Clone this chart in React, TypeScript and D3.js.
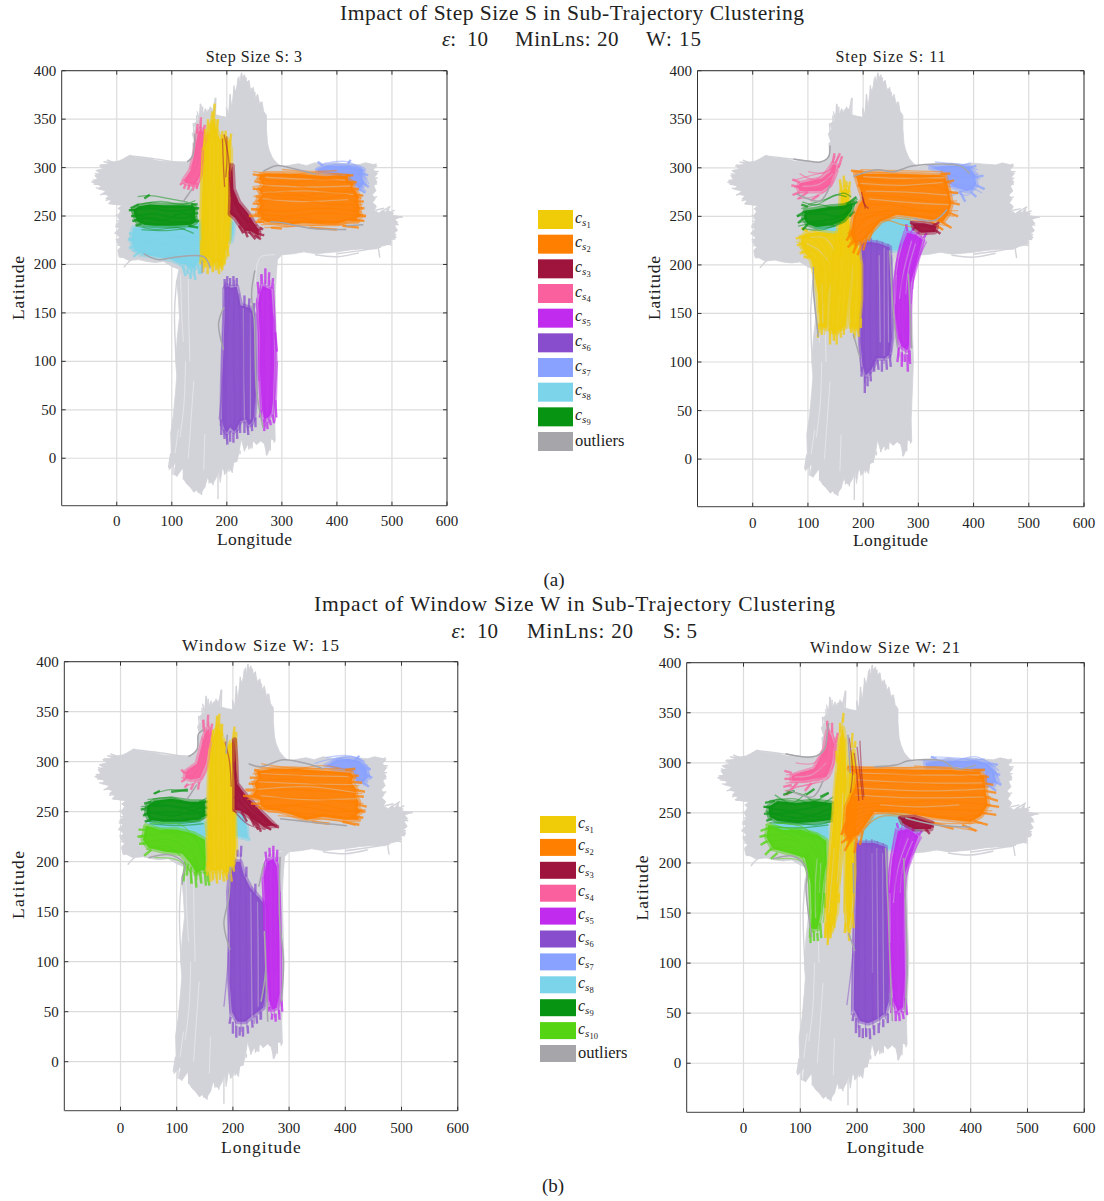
import React from "react";
import * as d3 from "d3";

const SERIF = "'Liberation Serif', serif";
const xTicks = [0, 100, 200, 300, 400, 500, 600];
const yTicks = [0, 50, 100, 150, 200, 250, 300, 350, 400];
const clusterColors = ["#f0cb08", "#ff8000", "#9f143c", "#fa5f9e", "#c12bee", "#884dcc", "#89a2ff", "#7bd4ea", "#079412", "#55d414"];
const outlierColor = "#a5a5aa";
const backgroundColor = "#d2d3d8";

// Silhouette of all the trajectories (x, y, x, y ...)
const backgroundBody = [4,208,2,215,7,218,-1,224,5,228,-3,233,4,237,-2,241,6,245,1,250,7,255,3,258,9,261,-15,263,-10,266,-20,268,-14,271,-26,273,-20,276,-34,278,-28,281,-46,285,-35,288,-40,292,-30,294,-38,297,-24,299,-32,302,-14,304,-24,306,-5,306,5,307,12,309,24,313,30,311,45,310,60,309,75,307,100,306,127,306,135,310,139,314,138,325,141,327,137,335,143,340,140,345,148,349,146,358,150,352,153,365,156,354,161,361,165,356,170,363,174,358,179,372,177,355,190,353,200,352,199,362,203,355,206,375,209,362,213,383,217,378,220,392,224,388,226,397,230,392,232,396,236,388,240,390,244,378,248,383,252,372,256,376,260,365,264,368,267,358,272,354,272,340,274,325,277,318,283,310,292,304,300,301,330,304,345,302,360,305,380,303,395,305,415,304,440,303,452,305,468,303,473,302,466,298,474,294,468,290,473,285,467,281,471,276,464,272,470,268,465,264,472,260,468,256,476,253,483,256,488,254,495,259,494,255,503,253,500,251,518,249,505,247,511,243,505,240,510,235,503,232,508,228,498,225,500,222,490,220,475,218,472,216,445,216,424,215,400,213,380,212,362,211,340,213,320,211,300,210,292,205,290,190,288,170,289,140,291,100,289,70,287,40,288,18,280,20,278,10,273,3,268,15,262,18,254,14,248,18,243,10,238,14,232,8,226,20,222,5,218,-3,212,-5,210,-15,204,-10,198,-16,192,-10,188,-25,185,-12,181,-20,175,-26,170,-25,165,-20,160,-30,152,-37,145,-33,140,-35,134,-30,128,-27,122,-22,120,-10,110,-18,104,-17,107,-5,95,-12,99,5,98,26,103,45,107,70,109,85,107,100,110,125,114,145,112,165,109,184,113,195,100,198,85,203,70,202,55,203,40,205,22,204,12,207];
const backgroundStrays = [[13,197,30,206,55,207],[475,218,478,207],[184,-10,184,-42],[25,312,70,309,127,304],[109,184,105,150,108,100],[360,210,400,208,440,212],[480,218,440,214,400,211],
  [-10,268,-20,266],[-15,274,-30,272],[-20,278,-38,279],[-25,282,-42,283],[-25,288,-44,287],[-20,292,-40,294],[-15,296,-36,297],[-10,301,-30,303],[-5,305,-18,308],[5,262,-14,263],[10,257,2,258],[8,250,-2,251],[8,245,0,245],[8,238,-3,239],[8,232,-4,232],[8,226,-2,226],[10,220,1,220],[12,214,2,213],[14,210,5,207],
  [460,300,472,304],[460,296,476,296],[460,290,474,289],[458,284,473,283],[458,276,470,276],[458,268,473,270],[458,262,470,261],[470,256,486,258],[480,254,497,260],[490,252,505,256],[495,250,520,249],[495,246,510,248],[495,242,512,241],[495,238,510,236],[495,232,508,231],[490,228,506,226],[480,222,500,220],
  [226,380,227,398],[230,380,231,395],[234,380,235,393],[222,375,222,394],[218,370,218,383],[214,370,213,385],[239,375,240,390],[244,370,245,382],[250,365,251,378],[255,360,256,373],[260,355,262,368],[206,355,206,376],[201,345,200,360],[179,350,180,372],[172,350,173,361],[165,350,166,360],[156,350,156,363],[150,340,152,366],[146,340,145,354],[141,330,139,346],
  [175,-10,175,-28],[168,-10,168,-26],[160,-15,160,-30],[155,-20,154,-38],[148,-20,148,-36],[142,-20,141,-35],[136,-15,135,-31],[128,-10,127,-26],[122,-8,121,-22],[110,-5,109,-19],[103,-2,102,-17],[98,5,94,-10],[195,-5,196,-17],[205,-2,204,-14],[211,0,211,-8],[218,5,218,-4],[224,8,224,4],[232,15,232,7],[240,18,240,9],[246,20,246,10],[265,25,265,16],[272,15,272,3],[279,22,279,8],[286,25,286,16]];
const backgroundGaps = [[116,190,118,150,121,120],[130,185,131,140,133,100],[125,100,122,55,115,22],[140,80,135,40,130,0],[160,25,158,-12],[252,180,255,200,262,208,288,210],[112,30,106,5]];

// ---- Panel A: Step Size S = 3 ----
const aYellowBody = [160,320,165,330,172,345,178,348,180,340,188,328,194,332,203,328,207,318,207,280,206,250,204,225,197,212,192,200,186,198,182,203,175,200,168,208,160,204,155,215,154,250,156,290];
const aYellowLines = [[155,320,153,260,156,200],[160,330,158,260,160,196],[168,345,165,260,170,198],[175,356,172,280,176,192],[178,350,182,270,184,195],[188,328,186,260,190,192],[195,334,197,270,193,197],[200,332,203,260,200,205],[205,328,207,270,205,225],[163,335,161,280,166,200]];
const aYellowTips = [[154,225,152,200],[158,215,157,192],[162,210,161,197],[166,208,165,190],[170,205,171,198],[174,205,174,192],[180,205,180,194],[184,200,186,190],[190,205,192,194],[196,212,196,200],[201,220,203,208],[158,318,161,340],[164,330,166,350],[170,340,174,358],[176,345,178,366],[182,336,184,350],[190,326,192,338],[197,328,198,338],[205,322,208,335]];
const aOrangeBody = [262,293,270,294,300,294,340,293,380,291,400,292,420,291,420,287,430,284,428,280,436,274,440,270,438,265,442,258,440,254,444,250,436,248,438,245,420,245,400,242,370,242,340,243,310,241,285,243,270,244,264,247,260,245,264,251,255,252,258,258,262,262,256,266,264,272,258,277,266,282,258,289];
const aOrangeLines = [[248,296,300,292,360,295,425,292],[252,288,320,285,380,288,432,282],[246,280,310,283,370,276,436,276],[258,274,330,271,395,274,445,268],[250,265,320,268,390,262,447,262],[245,258,300,255,370,258,446,254],[243,252,310,250,380,253,452,249],[255,246,330,248,400,243,447,246],[262,241,340,243,420,240],[268,238,350,240,440,243],[256,292,340,290,410,285],[248,270,300,276,360,268,420,272],[300,298,350,296,400,297]];
const aOrangeTips = [[262,292,247,293],[265,284,250,286],[262,278,247,278],[266,270,252,270],[262,262,247,263],[270,256,244,257],[266,250,240,250],[268,244,252,244],[415,292,430,292],[420,285,436,285],[425,278,440,278],[430,272,448,271],[430,265,449,265],[430,258,450,258],[435,252,453,250],[425,246,450,245],[410,240,440,238],[280,238,300,237],[350,238,400,236]];
const aOrangeGaps = [[270,290,340,288,415,287],[262,282,340,280,425,281],[265,274,340,276,430,272],[265,268,330,265,420,267]];
const aCrimsonBody = [207,295,210,302,212,278,222,264,238,253,250,242,258,236,258,230,245,234,232,235,222,242,215,248,206,252,207,270];
const aCrimsonLines = [[206,305,208,275,225,255,262,233],[205,290,212,268,235,245,258,228],[208,280,218,258,245,238,263,236],[205,255,225,245,250,232],[210,270,230,248,255,240],[195,334,203,310,207,270],[192,330,194,300,196,280],[200,332,200,305,198,290]];
const aCrimsonTips = [[255,232,268,230],[250,230,262,226],[240,234,252,226],[232,236,238,228],[260,238,266,236],[222,240,230,232]];
const aPinkBody = [148,336,152,340,158,336,160,311,152,292,143,282,125,284,122,287,134,297,140,311,145,328];
const aPinkLines = [[146,340,150,320,143,295,120,283],[152,346,155,320,148,290,128,279],[158,342,160,310,150,285,135,282],[143,330,147,305,130,290,118,286],[150,338,156,300,145,278],[141,335,141,310,132,298]];
const aPinkTips = [[120,285,115,282],[125,283,122,278],[132,283,130,277],[140,282,138,276],[147,284,145,278],[145,335,147,345],[152,340,153,352],[158,335,160,344],[163,325,165,335]];
const aMagentaBody = [260,170,265,178,272,176,281,174,285,140,286,100,284,60,281,46,275,42,268,40,264,50,260,90,260,130,257,160];
const aMagentaLines = [[262,190,258,120,262,50],[270,184,268,110,270,32],[278,184,280,100,276,36],[285,180,288,110,285,38],[292,100,290,60,288,38],[283,150,291,105,287,60],[254,165,258,110,258,80]];
const aMagentaTips = [[258,170,256,182],[264,180,263,190],[270,180,270,196],[276,178,277,192],[282,175,284,186],[288,130,291,110],[262,50,260,42],[268,40,268,28],[273,38,274,30],[278,40,280,34],[283,45,286,36],[288,60,290,42]];
const aPurpleBody = [196,175,200,178,208,176,218,177,225,158,242,155,250,148,252,64,249,42,245,36,239,34,235,40,224,38,218,30,212,28,206,32,200,26,194,32,191,40,192,81,196,150];
const aPurpleLines = [[197,182,192,120,190,60,188,33],[205,182,200,100,198,40,200,18],[214,184,212,100,215,50,213,25],[222,170,225,100,224,40],[232,160,232,90,238,28],[243,155,245,90,246,32],[250,150,253,90,250,38],[186,40,191,70,195,100]];
const aPurpleTips = [[196,175,196,185],[200,178,201,188],[206,178,206,186],[212,178,212,188],[218,178,218,186],[232,155,232,168],[240,155,241,165],[248,150,250,160],[190,40,190,24],[195,30,196,20],[200,25,201,14],[206,28,206,17],[212,26,212,16],[218,30,219,20],[224,38,224,26],[232,38,232,26],[238,33,239,24],[245,35,246,28],[252,42,252,32]];
const aPurpleGaps = [[230,155,231,90,232,40],[243,150,243,90,243,40]];
const aBlueBody = [365,298,380,302,400,302,420,302,440,300,448,298,446,290,450,284,445,280,440,278,430,284,400,292,365,295];
const aBlueLines = [[360,298,400,303,445,300],[375,304,420,306,450,296],[420,295,450,290,458,283],[430,285,445,280,452,276],[400,300,440,296,455,288]];
const aBlueTips = [[440,295,457,292],[445,285,458,280],[440,278,452,274],[375,302,365,306],[420,304,425,308]];
const aCyanBody = [30,238,60,240,100,240,140,240,155,244,158,215,155,205,148,202,140,195,130,200,120,200,100,205,70,208,50,210,32,215,26,225];
const aCyanLines = [[22,228,70,222,120,218,155,205],[30,236,90,232,150,222],[25,215,60,210,110,208,145,195],[40,208,90,214,130,198,140,188],[100,206,125,195,136,186],[50,225,100,228,158,228]];
const aCyanTips = [[135,200,134,185],[140,195,143,184],[148,200,150,190],[120,198,125,188],[130,200,128,190],[155,205,152,190],[30,225,20,226],[28,232,22,232],[30,218,22,217],[40,212,30,208]];
const aCyanRightBody = [207,245,213,243,211,232,208,224,205,224];
const aCyanRightLines = [[205,243,212,238,208,226]];
const aGreenBody = [30,256,40,260,60,262,85,261,110,261,138,261,143,258,142,250,144,244,135,241,105,240,70,240,50,241,38,244,33,250];
const aGreenLines = [[22,256,60,258,100,255,146,258],[27,250,70,252,110,248,146,250],[30,244,60,248,100,244,147,244],[38,270,60,271,95,268,130,264],[40,262,80,265,120,262,143,266],[35,240,70,236,110,238,140,232],[45,236,90,235,125,237],[28,253,80,245,120,253,145,247]];
const aGreenTips = [[40,262,25,258],[35,256,22,256],[35,250,26,250],[38,246,28,245],[45,242,34,240],[135,262,147,262],[135,258,150,258],[135,252,148,253],[135,246,150,245],[130,240,148,238],[60,272,50,268]];
const aOutliers = [[266,296,290,302,320,299,362,293],[279,244,300,243,357,237,417,236],[417,240,448,241],[121,265,137,278],[128,306,137,311,142,335],[49,211,75,205,100,207,158,208,170,196],[155,204,155,191],[195,156,185,139,194,112],[251,194,245,170,250,140,254,70,266,31]];

// ---- Panel B: Step Size S = 11 ----
const bYellowFanBody = [88,228,95,232,120,234,150,232,158,232,165,215,150,200,136,170,134,134,128,136,122,136,118,170,112,190,106,205,95,212,88,220];
const bYellowFanLines = [[78,224,110,215,125,190,122,130],[82,230,115,225,135,195,130,128],[90,236,130,222,145,180,140,125],[100,212,118,200,118,150],[85,218,120,210,128,160],[110,235,150,220,158,170]];
const bYellowFanTips = [[95,230,78,227],[90,222,80,220],[100,215,85,212],[105,208,92,208],[100,235,88,238],[120,140,118,125],[126,140,125,128],[132,145,130,135]];
const bYellowFanGaps = [[126,180,127,140],[98,222,120,215,135,205],[105,228,130,228,148,215]];
const bYellowMainBody = [158,250,160,275,168,280,174,275,174,250,178,230,184,215,178,190,170,150,168,136,158,134,150,130,144,131,138,138,142,180,150,215];
const bYellowMainLines = [[160,284,162,230,150,170,148,122],[168,288,168,230,162,170,155,128],[174,282,172,220,168,160,160,132],[150,235,145,190,138,130],[158,240,155,180,146,128],[180,232,175,180,168,135]];
const bYellowMainTips = [[160,275,158,288],[165,280,165,292],[170,280,170,286],[174,275,176,286],[140,135,140,118],[146,135,147,122],[152,135,152,118],[158,138,160,125],[165,135,165,128]];
const bYellowRightBody = [182,230,190,220,196,200,196,165,192,138,188,134,178,136,176,150,182,190,180,220];
const bYellowRightLines = [[180,236,186,190,180,130],[188,226,192,180,186,126],[196,205,197,165,192,132],[176,215,178,170,176,135]];
const bYellowRightTips = [[178,140,178,130],[184,135,184,124],[190,140,192,126],[196,145,196,135]];
const bOrangeBody = [186,294,230,294,300,293,348,292,354,280,360,263,354,252,345,245,300,249,262,252,232,245,215,234,200,225,186,222,178,230,182,248,192,262,200,268,192,282];
const bOrangeLines = [[182,296,240,295,300,292,352,293],[186,290,250,286,310,289,360,284],[190,282,250,278,320,282,365,274],[198,272,260,270,320,266,370,266],[195,262,250,262,310,256,372,256],[178,250,220,254,290,256,365,250],[172,232,200,248,260,252,345,244],[175,222,205,238,240,248,300,245,355,240],[185,216,205,230,235,246,280,240,340,238],[180,228,200,245,250,258],[195,298,270,297,345,296]];
const bOrangeTips = [[200,296,178,297],[205,288,186,292],[210,278,190,282],[340,294,358,294],[350,285,365,287],[355,275,372,274],[355,265,375,262],[350,255,372,250],[335,247,360,238],[320,246,345,236],[185,225,172,218],[190,225,182,212],[180,235,170,225],[200,225,190,210],[210,235,200,215],[220,240,210,225]];
const bOrangeGaps = [[200,291,280,289,348,290],[195,284,270,282,345,285],[205,276,280,275,352,272],[210,268,290,264,355,262]];
const bCrimsonBody = [290,243,310,243,333,240,330,234,305,233,292,238];
const bCrimsonLines = [[285,245,310,241,332,238],[290,237,312,240,334,234],[198,270,203,262,210,258],[200,268,204,258,197,275]];
const bCrimsonTips = [[295,240,285,244],[330,236,340,232],[325,240,338,244]];
const bPinkBody = [85,284,100,286,125,289,140,296,146,304,152,302,146,292,140,282,125,276,105,276,85,276,82,280];
const bPinkLines = [[72,287,105,292,140,298,156,312],[75,280,110,285,140,290,160,305],[75,272,110,278,140,282,150,300],[100,296,130,295,145,303],[80,268,120,272,145,284,155,298],[85,294,115,288,150,312]];
const bPinkTips = [[85,285,72,288],[85,280,70,282],[85,275,72,272],[100,275,82,268],[120,272,105,266],[150,305,158,315],[155,300,162,312],[145,305,148,315]];
const bPinkGaps = [[90,281,120,283,145,294],[95,289,125,292]];
const bMagentaBody = [280,233,295,231,308,226,298,205,286,180,284,150,283,118,280,112,270,116,264,124,258,150,258,180,264,205,272,222];
const bMagentaLines = [[278,240,262,210,258,160,265,105],[288,236,272,200,268,150,272,100],[298,234,280,200,275,150,277,108],[306,230,288,195,282,150,283,100],[312,226,294,195,287,160],[315,224,295,198,290,175],[268,222,256,185,255,150]];
const bMagentaTips = [[265,115,262,100],[270,110,270,95],[275,108,276,100],[280,108,281,90],[284,112,285,98],[280,235,278,242],[290,235,292,240],[300,232,303,237],[310,228,315,233]];
const bMagentaGaps = [[288,225,272,190,266,165],[295,222,282,195,277,170],[260,190,258,160]];
const bPurpleBody = [198,222,210,224,230,222,248,218,250,180,252,125,248,108,240,104,225,104,215,92,205,86,199,96,195,120,196,170];
const bPurpleLines = [[197,226,193,150,196,90],[205,228,202,150,203,78],[215,228,212,150,214,88],[225,226,224,150,226,100],[235,224,236,150,238,98],[245,222,248,150,250,104],[251,210,254,150,251,110]];
const bPurpleTips = [[198,95,197,85],[203,85,203,68],[208,85,208,75],[213,90,214,80],[220,102,220,90],[226,102,228,92],[234,102,234,90],[242,102,243,92],[248,108,250,95]];
const bPurpleGaps = [[238,218,238,106],[229,210,231,120],[245,215,246,120]];
const bBlueBody = [322,300,345,302,375,302,392,301,402,294,405,282,398,278,388,276,365,280,352,285,352,295];
const bBlueLines = [[315,303,350,300,395,305],[330,306,375,303,408,298],[350,290,385,295,412,288],[352,280,385,282,415,274],[365,276,390,272,402,285],[355,270,380,276,400,278],[340,297,380,290,410,294]];
const bBlueTips = [[390,300,405,302],[400,290,418,292],[405,282,420,278],[395,275,405,270],[375,276,385,265]];
const bCyanBody = [115,240,150,238,175,232,200,222,235,245,265,248,285,248,292,228,262,215,210,215,195,222,165,228,130,232];
const bCyanLines = [[110,240,150,232,180,222],[205,222,250,228,290,240],[210,218,260,220,285,230]];
const bGreenBody = [95,256,110,257,140,260,165,261,182,264,178,255,165,246,145,241,115,239,100,242,92,248];
const bGreenLines = [[80,250,120,253,160,250,185,262],[88,258,120,262,160,258,190,268],[85,244,120,245,150,248,180,258],[90,265,115,262,150,272,170,270],[90,238,125,236,160,244],[100,262,135,268,165,274,178,270],[82,240,115,243,150,240],[92,254,130,256,175,262]];
const bGreenTips = [[95,255,80,250],[92,248,82,243],[100,242,90,236],[100,260,88,262],[170,262,188,270],[180,262,190,265],[175,250,185,255]];
const bOutliers = [[74,309,100,307,122,306,137,311,140,323],[80,273,122,266,140,282],[182,291,224,298,255,296,291,302,375,302,393,294],[110,198,110,174,119,126],[248,215,255,150,262,115],[282,191,288,114],[182,129,194,105],[290,248,330,246,352,257]];

// ---- Panel C: Window Size W = 15 ----
const cYellowBody = [160,310,168,330,175,336,180,325,188,315,195,318,203,322,205,300,203,250,205,215,201,198,192,190,186,188,178,194,170,190,160,192,156,198,156,250,158,290];
const cYellowLines = [[158,300,155,240,158,185],[165,325,162,250,164,180],[172,345,170,250,172,182],[178,338,180,260,178,186],[186,318,186,250,188,180],[194,322,194,250,196,186],[202,330,205,270,202,195],[150,240,155,200,150,190]];
const cYellowTips = [[156,200,154,186],[160,195,160,180],[165,190,165,182],[170,190,172,178],[176,195,177,182],[182,190,184,180],[188,190,190,182],[195,192,198,180],[200,200,202,190],[163,320,165,332],[170,330,172,346],[175,335,176,348],[180,325,181,338],[200,322,203,335],[205,315,206,330]];
const cOrangeBody = [250,291,270,293,310,293,360,291,410,289,415,285,410,280,420,272,418,266,424,260,422,254,428,250,420,247,424,242,400,242,360,245,330,242,305,247,280,251,262,252,250,256,248,262,232,265,242,272,238,278,246,284,242,290];
const cOrangeLines = [[240,295,300,292,360,296,415,290],[235,288,310,286,370,290,420,283],[232,280,300,282,370,276,425,276],[224,270,300,272,370,270,430,268],[225,262,300,264,370,262,432,258],[240,255,310,256,380,250,436,252],[262,250,330,248,400,244,425,242],[280,246,350,243,395,240,418,236],[250,298,300,294,390,293],[270,252,340,258,410,250]];
const cOrangeTips = [[250,290,238,292],[250,284,230,284],[248,278,228,278],[245,272,222,272],[245,265,218,266],[250,258,232,258],[262,252,245,254],[400,292,418,293],[405,286,424,286],[410,280,430,279],[415,272,435,270],[415,266,433,265],[415,258,438,255],[415,252,436,250],[410,246,432,244],[395,240,425,237],[340,240,372,238]];
const cOrangeGaps = [[250,288,330,286,410,285],[245,280,320,278,418,277],[240,272,330,275,418,269],[250,266,330,262,420,263]];
const cCrimsonBody = [203,322,205,305,207,278,225,265,250,250,275,236,268,236,255,235,240,241,225,247,212,251,203,252];
const cCrimsonLines = [[200,322,205,280,225,258,278,234],[203,300,212,262,250,242,282,236],[202,265,230,250,268,232],[201,252,225,238,258,232],[205,290,220,262,262,240],[186,320,194,300,197,275]];
const cCrimsonTips = [[255,236,268,232],[262,240,282,234],[240,242,250,230],[230,248,245,232],[225,252,238,236],[215,250,225,240]];
const cPinkBody = [147,322,152,330,157,333,160,322,152,298,142,284,125,282,115,284,116,290,136,298];
const cPinkLines = [[148,342,150,310,135,290,112,282],[157,340,158,305,142,282,115,276],[162,330,156,295,140,278],[145,325,146,300,125,285,108,284],[152,335,152,300,130,278],[150,328,138,298,118,292]];
const cPinkTips = [[115,288,108,292],[115,282,108,280],[120,278,114,274],[130,278,125,272],[140,280,138,272],[148,330,147,342],[155,335,156,347],[160,325,163,338]];
const cMagentaBody = [260,200,272,203,278,196,281,170,283,110,283,68,278,54,270,52,264,62,260,100,258,150,255,185];
const cMagentaLines = [[256,200,256,120,262,60],[264,208,264,120,268,48],[272,212,272,120,274,44],[280,205,281,120,282,48],[284,170,287,100,287,55],[252,185,256,130,258,90]];
const cMagentaTips = [[260,200,258,210],[266,205,265,214],[272,205,272,216],[278,200,279,212],[265,55,263,50],[270,48,269,42],[276,48,276,40],[282,52,283,42],[286,62,288,50]];
const cPurpleBody = [196,192,205,200,213,200,220,186,232,173,248,163,256,158,256,120,258,70,254,54,245,50,235,46,222,40,208,40,198,50,194,80,195,130,192,170];
const cPurpleLines = [[196,195,192,120,195,45],[205,204,202,120,205,36],[214,208,212,120,215,30],[222,188,224,120,225,35],[234,175,236,110,238,38],[246,165,248,110,248,42],[255,160,258,110,256,55],[184,55,190,90,192,110]];
const cPurpleTips = [[196,45,194,38],[200,40,200,28],[206,36,206,24],[212,35,212,26],[218,35,218,25],[226,36,227,28],[234,42,235,34],[242,46,243,38],[250,50,250,42],[200,200,200,208],[208,205,208,212],[214,205,215,216],[224,185,224,195],[240,168,240,178]];
const cPurpleGaps = [[232,170,233,100,234,45],[244,160,245,100,245,55]];
const cBlueBody = [365,296,385,302,405,303,426,301,438,292,440,284,432,280,420,280,415,290,380,293];
const cBlueLines = [[345,298,385,303,440,296],[365,304,405,306,435,300],[410,290,435,294,445,282],[420,282,440,280,432,276],[400,300,430,292,442,285],[375,300,415,305,445,292]];
const cBlueTips = [[430,296,445,292],[435,288,448,284],[430,280,442,275],[415,300,425,306]];
const cCyanBody = [50,240,100,240,155,240,155,225,110,228,60,234];
const cCyanLines = [[48,238,100,236,152,230],[60,235,110,232,150,228]];
const cCyanRightBody = [205,250,218,246,224,236,226,223,205,226];
const cCyanRightLines = [[205,248,222,238,226,224],[205,232,220,228,232,221]];
const cGreenBody = [48,256,60,261,90,263,125,260,150,260,150,255,151,246,140,242,105,240,75,240,52,242,46,248];
const cGreenLines = [[36,255,80,256,120,254,152,260],[42,248,90,250,130,248,152,250],[48,262,90,264,130,258,154,264],[58,268,90,272,120,270],[45,240,90,242,130,240,150,244],[52,238,100,236,148,238],[40,252,95,246,150,256],[50,258,100,255,148,248]];
const cGreenTips = [[55,260,42,258],[50,254,36,252],[50,248,40,246],[55,242,43,240],[140,260,156,260],[140,254,156,254],[140,246,155,247],[60,268,70,271],[90,270,120,272]];
const cLimeBody = [45,236,70,232,100,232,130,228,150,222,152,204,150,190,145,192,135,188,125,198,110,208,80,210,50,214,40,222];
const cLimeLines = [[33,224,80,228,125,215,142,180],[40,235,90,230,140,210,155,180],[45,212,85,215,120,195,128,178],[55,238,110,236,150,205],[36,218,90,222,130,205,136,182],[60,204,100,202,125,190],[80,232,130,226,153,195]];
const cLimeTips = [[45,232,32,232],[42,226,30,225],[45,218,33,218],[55,212,42,206],[125,195,126,178],[133,190,135,174],[142,190,144,178],[150,190,152,176],[115,200,112,180],[120,198,118,186],[155,190,158,176]];
const cOutliers = [[121,305,136,312,139,328,148,332],[118,262,136,277],[228,298,249,295,290,302,332,298,361,293],[284,243,367,238,403,236],[50,204,86,207,107,202,115,195,110,185,110,177],[190,327,188,308],[195,195,193,165,184,138,195,112],[255,198,246,175],[284,205,283,145,290,100,286,60],[250,60,258,90,256,130,262,40]];

// ---- Panel D: Window Size W = 21 ----
const dYellowBody = [166,300,170,325,175,335,179,320,181,280,177,240,169,200,164,150,155,134,147,128,146,150,150,190,156,230,161,270];
const dYellowLines = [[163,290,158,230,150,170,143,125],[168,325,163,240,155,170,148,120],[174,345,170,250,160,170,152,124],[180,325,176,250,166,170,158,130],[182,285,180,240,170,180],[158,260,150,200,145,150]];
const dYellowTips = [[175,340,176,350],[170,330,170,340],[165,300,163,312],[150,135,148,118],[155,135,153,125],[145,140,144,125],[160,145,160,135],[168,170,168,160]];
const dYellowGaps = [[175,270,172,230,165,180],[160,215,155,180,150,150]];
const dYellowRightBody = [186,295,190,310,194,312,197,295,195,250,194,220,195,190,190,150,186,136,183,134,180,160,180,210,185,250];
const dYellowRightLines = [[187,312,184,240,178,170,180,130],[193,320,190,240,186,170,184,126],[198,290,197,220,194,160,188,130],[184,270,182,200,176,150]];
const dYellowRightTips = [[190,315,192,330],[196,315,197,322],[180,140,178,130],[186,135,186,122],[192,150,194,135]];
const dOrangeBody = [186,294,240,294,300,293,360,293,415,291,424,286,426,272,430,258,418,247,400,241,340,245,282,250,250,251,230,251,215,238,203,229,186,223,178,230,181,256,191,269,196,275,200,288];
const dOrangeLines = [[190,296,270,295,350,296,418,291],[200,288,280,288,360,290,428,284],[198,278,270,280,350,278,432,276],[192,268,270,270,350,270,436,266],[185,258,260,260,340,262,436,258],[178,248,220,256,320,254,438,252],[175,236,205,250,270,252,360,244,430,250],[172,228,200,244,250,250,340,240,420,240],[182,216,208,232,240,246,300,245,370,236,412,232],[176,222,205,240,230,252],[300,297,370,294,425,292]];
const dOrangeTips = [[195,296,183,296],[405,293,425,293],[415,287,432,286],[420,280,440,278],[425,272,445,270],[425,266,448,262],[425,258,450,256],[420,250,445,248],[405,242,430,238],[385,238,410,232],[330,240,370,234],[185,225,172,220],[190,225,178,212],[180,240,172,228],[200,225,195,210],[210,232,205,218]];
const dOrangeGaps = [[205,290,300,288,420,288],[200,283,310,280,425,280],[200,275,320,272,424,274],[195,268,300,265,425,266],[240,258,300,256,380,258]];
const dCrimsonBody = [276,245,300,246,332,240,330,234,300,234,280,240];
const dCrimsonLines = [[272,245,305,243,332,236],[280,240,310,242,334,238],[290,236,315,240,325,232],[200,316,205,290,210,263],[195,310,200,285,203,262],[186,325,192,290,188,270],[205,322,208,290,212,266]];
const dCrimsonTips = [[280,243,274,246],[325,238,335,236],[320,234,328,229]];
const dPinkBody = [148,332,154,328,160,318,155,298,146,286,125,284,107,282,85,282,85,287,100,290,124,294,142,313];
const dPinkLines = [[146,340,148,315,125,294,75,288],[155,335,160,310,135,285,74,280],[162,326,156,295,125,280,80,276],[150,330,138,296,100,290],[165,320,150,285,110,278,72,272],[92,300,125,300,145,318]];
const dPinkTips = [[85,290,72,292],[85,284,72,284],[85,278,70,276],[95,280,75,268],[120,280,108,272],[150,330,147,342],[156,330,156,340],[163,320,166,330]];
const dPinkGaps = [[90,286,120,288,145,300]];
const dMagentaBody = [272,232,290,234,308,227,296,208,282,186,282,130,284,90,281,56,272,52,264,62,258,120,256,170,262,205];
const dMagentaLines = [[268,235,256,190,254,130,258,70],[280,238,262,195,262,120,266,50],[290,240,270,195,268,110,272,48],[300,236,278,190,276,110,278,50],[308,232,285,195,283,120,284,55],[314,226,292,200,284,165],[256,130,262,80,268,58]];
const dMagentaTips = [[272,235,270,240],[285,236,286,242],[298,232,300,238],[308,228,314,232],[262,65,260,50],[268,52,268,42],[274,50,275,42],[280,52,282,44],[285,65,288,48]];
const dMagentaGaps = [[290,225,272,195,264,160],[298,222,280,195,276,170],[258,170,258,120]];
const dPurpleBody = [197,220,230,220,250,216,252,170,256,100,256,62,250,50,235,44,220,40,205,42,194,54,195,100,198,170];
const dPurpleLines = [[197,224,193,130,190,48],[206,224,203,120,202,35],[216,224,214,120,215,28],[226,224,226,120,228,34],[236,222,238,120,240,38],[246,220,248,120,250,44],[252,215,256,120,258,58],[182,58,188,85,193,110]];
const dPurpleTips = [[194,50,192,42],[198,45,198,30],[204,38,204,26],[210,35,210,25],[216,35,216,26],[222,35,223,24],[230,38,230,28],[238,40,238,30],[246,44,246,36],[254,50,254,40]];
const dPurpleGaps = [[235,215,236,120,237,45],[245,210,246,120,247,50],[226,210,227,150,227,90]];
const dBlueBody = [320,300,345,302,380,302,410,302,428,300,441,292,445,282,438,278,425,278,425,292,370,296,322,296];
const dBlueLines = [[312,303,360,300,425,304],[330,306,390,304,445,296],[415,294,440,292,452,280],[425,282,445,280,438,273],[355,298,410,306,450,292],[395,300,435,296,448,286]];
const dBlueTips = [[430,300,448,298],[440,290,452,288],[440,282,454,278],[430,278,445,272],[340,304,330,306]];
const dCyanBody = [51,240,100,238,148,240,150,225,110,226,60,234];
const dCyanLines = [[48,238,95,236,148,232],[55,234,105,230,148,226]];
const dCyanRightBody = [206,228,225,245,260,250,285,248,300,240,312,232,280,230,270,213,235,216,206,218];
const dCyanRightLines = [[205,222,240,222,290,236],[212,216,250,214,275,222],[225,240,270,245,312,236]];
const dGreenBody = [44,256,60,262,90,260,125,262,155,260,157,250,155,243,125,241,95,240,60,242,46,246];
const dGreenLines = [[36,256,85,252,125,256,160,260],[40,248,90,250,130,246,158,250],[45,262,90,264,130,258,158,266],[75,272,105,268,125,262,150,270],[45,240,90,240,130,238,156,242],[50,236,100,235,150,238],[38,252,100,245,155,255],[55,268,85,260,110,270]];
const dGreenTips = [[55,262,38,260],[50,256,35,256],[48,250,36,249],[50,244,40,242],[70,268,90,272],[110,268,125,274],[135,266,150,270]];
const dLimeBody = [44,238,70,233,100,233,130,228,146,222,146,200,140,180,136,150,130,134,122,134,120,150,118,180,108,205,80,210,52,214,40,226];
const dLimeLines = [[30,226,80,228,115,210,122,130],[38,238,90,232,130,205,130,128],[44,212,85,216,110,195,116,125],[55,240,110,234,140,195,138,150],[34,220,90,222,122,190,120,135],[58,204,100,202,115,185],[80,234,135,226,146,180,140,140]];
const dLimeTips = [[45,235,30,232],[40,228,28,226],[42,222,30,218],[50,215,38,208],[60,210,48,204],[118,135,118,120],[124,132,124,122],[130,130,131,122],[135,140,137,125],[142,170,144,155],[122,150,120,135]];
const dLimeGaps = [[130,205,126,175,127,145],[136,200,134,170]];
const dOutliers = [[74,309,122,306,142,313,148,332,150,340],[80,273,122,266,140,282],[184,328,188,290],[230,296,270,298,290,302,350,302,375,294,410,298],[285,245,340,238,400,236],[52,204,86,207,105,200,112,190,110,175,120,126],[185,130,196,112],[250,215,255,150,258,100,262,42],[282,205,287,130,288,90,284,50],[193,200,194,170]];

const none: number[][] = [];
const panels = [
  { title: "Step Size S: 3", left: 61.7, right: 447, top: 70.7, bottom: 505.7, subX: 205.7, subW: 96.3, subY: 62, subFs: 16, xTickY: 526, labX: 217, labW: 75, labY: 545, latX: 24, latY: 288, latW: 64,
    clusters: [[7,aCyanBody,aCyanLines,aCyanTips,none],[7,aCyanRightBody,aCyanRightLines,none,none],[6,aBlueBody,aBlueLines,aBlueTips,none],[8,aGreenBody,aGreenLines,aGreenTips,none],[3,aPinkBody,aPinkLines,aPinkTips,none],[5,aPurpleBody,aPurpleLines,aPurpleTips,aPurpleGaps],[4,aMagentaBody,aMagentaLines,aMagentaTips,none],[0,aYellowBody,aYellowLines,aYellowTips,none],[2,aCrimsonBody,aCrimsonLines,aCrimsonTips,none],[1,aOrangeBody,aOrangeLines,aOrangeTips,aOrangeGaps]], outliers: aOutliers },
  { title: "Step Size S: 11", left: 697.5, right: 1084, top: 70.7, bottom: 506.7, subX: 835.5, subW: 110, subY: 61.5, subFs: 16, xTickY: 527.7, labX: 853, labW: 75, labY: 545.7, latX: 660, latY: 288, latW: 64,
    clusters: [[7,bCyanBody,bCyanLines,none,none],[6,bBlueBody,bBlueLines,bBlueTips,none],[3,bPinkBody,bPinkLines,bPinkTips,bPinkGaps],[5,bPurpleBody,bPurpleLines,bPurpleTips,bPurpleGaps],[4,bMagentaBody,bMagentaLines,bMagentaTips,bMagentaGaps],[0,bYellowFanBody,bYellowFanLines,bYellowFanTips,bYellowFanGaps],[0,bYellowMainBody,bYellowMainLines,bYellowMainTips,none],[0,bYellowRightBody,bYellowRightLines,bYellowRightTips,none],[8,bGreenBody,bGreenLines,bGreenTips,none],[1,bOrangeBody,bOrangeLines,bOrangeTips,bOrangeGaps],[2,bCrimsonBody,bCrimsonLines,bCrimsonTips,none]], outliers: bOutliers },
  { title: "Window Size W: 15", left: 64.3, right: 457.7, top: 661.7, bottom: 1110.7, subX: 182, subW: 157, subY: 651, subFs: 17, xTickY: 1132.7, labX: 221, labW: 79.7, labY: 1152.7, latX: 24, latY: 885, latW: 68,
    clusters: [[7,cCyanBody,cCyanLines,none,none],[7,cCyanRightBody,cCyanRightLines,none,none],[6,cBlueBody,cBlueLines,cBlueTips,none],[8,cGreenBody,cGreenLines,cGreenTips,none],[9,cLimeBody,cLimeLines,cLimeTips,none],[3,cPinkBody,cPinkLines,cPinkTips,none],[5,cPurpleBody,cPurpleLines,cPurpleTips,cPurpleGaps],[4,cMagentaBody,cMagentaLines,cMagentaTips,none],[0,cYellowBody,cYellowLines,cYellowTips,none],[2,cCrimsonBody,cCrimsonLines,cCrimsonTips,none],[1,cOrangeBody,cOrangeLines,cOrangeTips,cOrangeGaps]], outliers: cOutliers },
  { title: "Window Size W: 21", left: 686.7, right: 1084.3, top: 662.7, bottom: 1112.3, subX: 810, subW: 150, subY: 652.5, subFs: 16.5, xTickY: 1132.7, labX: 846.7, labW: 77.3, labY: 1152.7, latX: 648, latY: 888, latW: 65,
    clusters: [[7,dCyanBody,dCyanLines,none,none],[7,dCyanRightBody,dCyanRightLines,none,none],[6,dBlueBody,dBlueLines,dBlueTips,none],[3,dPinkBody,dPinkLines,dPinkTips,dPinkGaps],[5,dPurpleBody,dPurpleLines,dPurpleTips,dPurpleGaps],[4,dMagentaBody,dMagentaLines,dMagentaTips,dMagentaGaps],[8,dGreenBody,dGreenLines,dGreenTips,none],[9,dLimeBody,dLimeLines,dLimeTips,dLimeGaps],[0,dYellowRightBody,dYellowRightLines,dYellowRightTips,none],[0,dYellowBody,dYellowLines,dYellowTips,dYellowGaps],[1,dOrangeBody,dOrangeLines,dOrangeTips,dOrangeGaps],[2,dCrimsonBody,dCrimsonLines,dCrimsonTips,none]], outliers: dOutliers },
];

const legends = [
  { x: 538, w: 35, h: 19, first: 210, last: 432, labelX: 575, count: 9 },
  { x: 540, w: 36, h: 17, first: 816, last: 1045, labelX: 578, count: 10 },
];

const pairs = (flat: number[]) => d3.pairs(flat).filter((_, i) => i % 2 === 0) as [number, number][];

function Panel({ p }: { p: any }) {
  const x = d3.scaleLinear().domain([-100, 600]).range([p.left, p.right]);
  const y = d3.scaleLinear().domain([-49, 400]).range([p.bottom, p.top]);
  const line = d3.line<[number, number]>().x(d => x(d[0])).y(d => y(d[1]));
  const curve = d3.line<[number, number]>().x(d => x(d[0])).y(d => y(d[1])).curve(d3.curveCatmullRom);
  const tc = "#333";
  return (
    <g>
      {xTicks.map(t => <line key={"gx" + t} x1={x(t)} x2={x(t)} y1={p.top} y2={p.bottom} stroke="#dcdcdc" strokeWidth={1.2} />)}
      {yTicks.map(t => <line key={"gy" + t} x1={p.left} x2={p.right} y1={y(t)} y2={y(t)} stroke="#dcdcdc" strokeWidth={1.2} />)}
      <g filter="url(#soft)">
        <path d={line(pairs(backgroundBody)) + "Z"} fill={backgroundColor} stroke={backgroundColor} strokeWidth={0.8} />
        {backgroundStrays.map((s, i) => <path key={"s" + i} d={curve(pairs(s)) || ""} fill="none" stroke={backgroundColor} strokeWidth={1.4} />)}
        {backgroundGaps.map((s, i) => <path key={"g" + i} d={curve(pairs(s)) || ""} fill="none" stroke="#fff" strokeOpacity={0.5} strokeWidth={0.8} />)}
        {p.clusters.map((c: any, i: number) => (
          <g key={"c" + i}>
            <path d={line(pairs(c[1])) + "Z"} fill={clusterColors[c[0]]} fillOpacity={0.95} stroke={clusterColors[c[0]]} strokeOpacity={0.5} strokeWidth={5} strokeLinejoin="round" />
            {c[4].map((s: number[], j: number) => <path key={"g" + j} d={curve(pairs(s)) || ""} fill="none" stroke={backgroundColor} strokeOpacity={0.4} strokeWidth={1.3} />)}
            {c[2].map((s: number[], j: number) => <path key={"l" + j} d={curve(pairs(s)) || ""} fill="none" stroke={clusterColors[c[0]]} strokeOpacity={0.5} strokeWidth={1.3} />)}
            {c[3].map((s: number[], j: number) => <path key={"t" + j} d={line(pairs(s)) || ""} fill="none" stroke={clusterColors[c[0]]} strokeOpacity={0.75} strokeWidth={2.4} />)}
          </g>
        ))}
        {p.outliers.map((s: number[], i: number) => <path key={"o" + i} d={curve(pairs(s)) || ""} fill="none" stroke={outlierColor} strokeWidth={1.5} />)}
      </g>
      <line x1={p.left} x2={p.right} y1={p.top} y2={p.top} stroke={tc} strokeWidth={1} />
      <line x1={p.left} x2={p.left} y1={p.top} y2={p.bottom} stroke={tc} strokeWidth={1} />
      <line x1={p.left} x2={p.right} y1={p.bottom} y2={p.bottom} stroke="#666" strokeWidth={1.3} />
      <line x1={p.right} x2={p.right} y1={p.top} y2={p.bottom} stroke="#666" strokeWidth={1.3} />
      {xTicks.map(t => (
        <g key={"tx" + t}>
          <line x1={x(t)} x2={x(t)} y1={p.bottom} y2={p.bottom - 4} stroke={tc} />
          <line x1={x(t)} x2={x(t)} y1={p.top} y2={p.top + 4} stroke={tc} />
          <text x={x(t)} y={p.xTickY} textAnchor="middle" fontSize={15} fill="#222">{t}</text>
        </g>
      ))}
      {yTicks.map(t => (
        <g key={"ty" + t}>
          <line x1={p.left} x2={p.left + 4} y1={y(t)} y2={y(t)} stroke={tc} />
          <line x1={p.right} x2={p.right - 4} y1={y(t)} y2={y(t)} stroke={tc} />
          <text x={p.left - 5.5} y={y(t) + 5} textAnchor="end" fontSize={15} fill="#222">{t}</text>
        </g>
      ))}
      <text x={p.subX} y={p.subY} fontSize={p.subFs} textLength={p.subW} fill="#222">{p.title}</text>
      <text x={p.labX} y={p.labY} fontSize={17.5} textLength={p.labW} fill="#222">Longitude</text>
      <text transform={`translate(${p.latX},${p.latY}) rotate(-90)`} textAnchor="middle" fontSize={17.5} textLength={p.latW} fill="#222">Latitude</text>
    </g>
  );
}

function Legend({ l }: { l: any }) {
  const rows = d3.scaleLinear().domain([0, l.count]).range([l.first, l.last]);
  return (
    <g>
      {d3.range(l.count).map(i => (
        <g key={i}>
          <rect x={l.x} y={rows(i)} width={l.w} height={l.h} fill={clusterColors[i]} />
          <text x={l.labelX} y={rows(i) + l.h / 2 + 3} fontSize={16} fill="#222">
            <tspan fontStyle="italic">c</tspan>
            <tspan fontStyle="italic" fontSize={11} dy={3}>s</tspan>
            <tspan fontSize={8.5} dy={2}>{i + 1}</tspan>
          </text>
        </g>
      ))}
      <rect x={l.x} y={rows(l.count)} width={l.w} height={l.h} fill={outlierColor} />
      <text x={l.labelX} y={rows(l.count) + l.h / 2 + 4.5} fontSize={16.5} fill="#222">outliers</text>
    </g>
  );
}

export default function App() {
  return (
    <svg width={1104} height={1201} viewBox="0 0 1104 1201" style={{ position: "absolute", left: 0, top: 0, fontFamily: SERIF }}>
      <defs>
        <filter id="soft" x="-5%" y="-5%" width="110%" height="110%">
          <feGaussianBlur stdDeviation="0.45" />
        </filter>
      </defs>
      <text x={340} y={20} fontSize={21.5} textLength={464} fill="#222">Impact of Step Size S in Sub-Trajectory Clustering</text>
      <text x={442} y={46} fontSize={21} fontStyle="italic" fill="#222">ε<tspan fontStyle="normal">:</tspan></text>
      <text x={467} y={46} fontSize={21} fill="#222">10</text>
      <text x={515} y={46} fontSize={21} textLength={103.5} fill="#222">MinLns: 20</text>
      <text x={646} y={46} fontSize={21} textLength={55} fill="#222">W: 15</text>
      <text x={554} y={585.7} fontSize={19} textAnchor="middle" fill="#222">(a)</text>
      <text x={314} y={611} fontSize={21.5} textLength={521} fill="#222">Impact of Window Size W in Sub-Trajectory Clustering</text>
      <text x={451.5} y={637.5} fontSize={21} fontStyle="italic" fill="#222">ε<tspan fontStyle="normal">:</tspan></text>
      <text x={477} y={637.5} fontSize={21} fill="#222">10</text>
      <text x={527} y={637.5} fontSize={21} textLength={106} fill="#222">MinLns: 20</text>
      <text x={663} y={637.5} fontSize={21} textLength={34} fill="#222">S: 5</text>
      <text x={553} y={1192} fontSize={19} textAnchor="middle" fill="#222">(b)</text>
      {panels.map((p, i) => <Panel key={i} p={p} />)}
      {legends.map((l, i) => <Legend key={i} l={l} />)}
    </svg>
  );
}
